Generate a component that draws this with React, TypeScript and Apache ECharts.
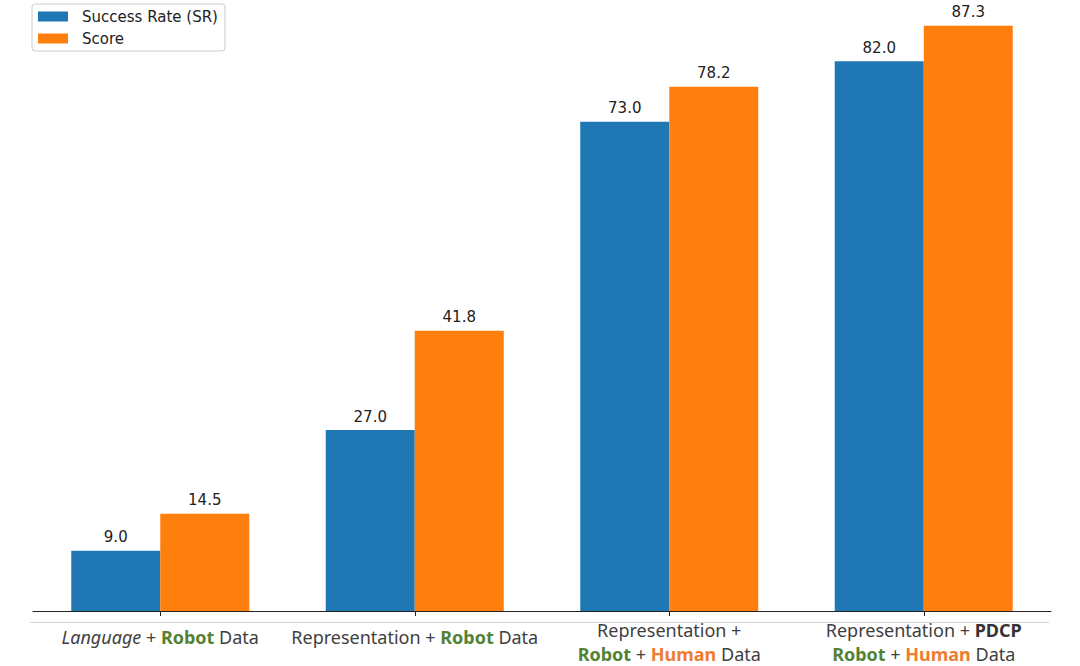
import React, { useEffect, useRef } from "react";
import * as echarts from "echarts";

const categories = [
  "Language + Robot Data",
  "Representation + Robot Data",
  "Representation +\nRobot + Human Data",
  "Representation + PDCP\nRobot + Human Data",
];
const tickLabels = [
  "{it|Language} + {g1|Robot} Data",
  "Representation + {g1|Robot} Data",
  "Representation +\n{g|Robot} + {h|Human} Data",
  "Representation + {b|PDCP}\n{g|Robot} + {h|Human} Data",
];
const seriesNames = ["Success Rate (SR)", "Score"];
const successRate = [9.0, 27.0, 73.0, 82.0];
const score = [14.5, 41.8, 78.2, 87.3];

const BLUE = "#1f77b4";
const ORANGE = "#ff7f0e";
const GREEN = "#548235";
const HUMAN = "#ED7D31";
const TXT = "#404040";
const LABEL_FONT = "Noto Sans";
const FS = 18;

export default function App() {
  const ref = useRef<HTMLDivElement>(null);
  useEffect(() => {
    document.body.style.margin = "0";
    if (!ref.current) return;
    const chart = echarts.init(ref.current, undefined, { renderer: "svg" });
    const labelStyle = {
      show: true,
      position: "top" as const,
      distance: 6,
      color: "#222",
      fontFamily: "DejaVu Sans",
      fontSize: 15,
      formatter: (p: any) => Number(p.value).toFixed(1),
    };
    chart.setOption({
      animation: false,
      backgroundColor: "#ffffff",
      grid: { left: 33, right: 29, top: 1, bottom: 53.5, containLabel: false },
      legend: {
        left: 32,
        top: 4,
        orient: "vertical",
        icon: "rect",
        itemWidth: 30,
        itemHeight: 10,
        itemGap: 7,
        padding: [5, 7, 5, 6],
        borderColor: "#cccccc",
        borderWidth: 1,
        borderRadius: 3,
        backgroundColor: "rgba(255,255,255,0.8)",
        textStyle: {
          fontFamily: "DejaVu Sans",
          fontSize: 15,
          color: "#222",
          lineHeight: 15,
          padding: [0, 0, 0, 9],
        },
        data: seriesNames,
      },
      xAxis: {
        type: "category",
        data: categories,
        axisLine: { show: true, lineStyle: { color: "#222", width: 1 } },
        axisTick: { show: true, alignWithLabel: true, length: 5, lineStyle: { color: "#222" } },
        axisLabel: {
          margin: 7,
          interval: 0,
          color: TXT,
          fontFamily: LABEL_FONT,
          fontSize: FS,
          lineHeight: 24,
          align: "center",
          formatter: (_v: string, i: number) => tickLabels[i],
          rich: {
            it: { fontStyle: "italic", fontFamily: LABEL_FONT, fontSize: FS, color: TXT, lineHeight: 24 },
            g: { fontWeight: "bold", fontFamily: LABEL_FONT, fontSize: FS, color: GREEN, lineHeight: 24 },
            g1: { fontWeight: "bold", fontFamily: LABEL_FONT, fontSize: FS, color: GREEN, lineHeight: 38 },
            h: { fontWeight: "bold", fontFamily: LABEL_FONT, fontSize: FS, color: HUMAN, lineHeight: 24 },
            b: { fontWeight: "bold", fontFamily: LABEL_FONT, fontSize: FS, color: "#333", lineHeight: 24 },
          },
        },
        splitLine: { show: false },
      },
      yAxis: {
        type: "value",
        min: 0,
        max: 91,
        show: false,
        splitLine: { show: false },
      },
      graphic: [
        {
          type: "line",
          shape: { x1: 30, y1: 622.5, x2: 1049, y2: 622.5 },
          style: { stroke: "#d4d4d4", lineWidth: 1 },
          silent: true,
        },
      ],
      series: [
        {
          name: seriesNames[0],
          type: "bar",
          data: successRate,
          barWidth: 89,
          barGap: "0%",
          itemStyle: { color: BLUE },
          label: labelStyle,
        },
        {
          name: seriesNames[1],
          type: "bar",
          data: score,
          barWidth: 89,
          barGap: "0%",
          itemStyle: { color: ORANGE },
          label: labelStyle,
        },
      ],
    });
    return () => chart.dispose();
  }, []);
  return <div ref={ref} style={{ width: 1080, height: 666 }} />;
}
